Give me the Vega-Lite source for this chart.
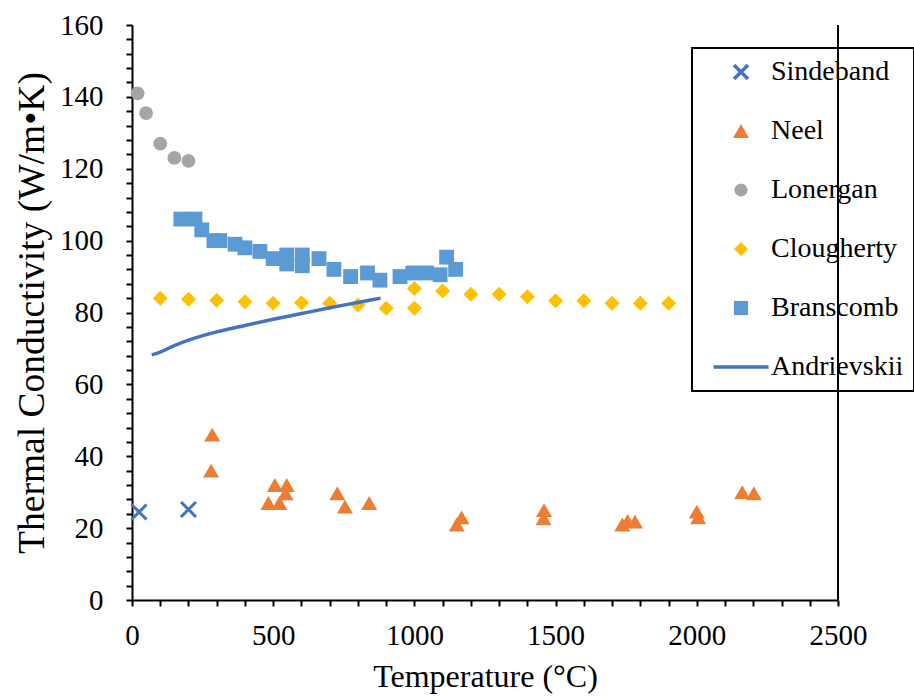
{
  "$schema": "https://vega.github.io/schema/vega-lite/v6.json",
  "width": 706,
  "height": 575,
  "autosize": "none",
  "padding": {"left": 132, "top": 25, "right": 76, "bottom": 96},
  "background": "white",
  "config": {
    "view": {"stroke": null, "fill": null},
    "font": "Liberation Serif",
    "axis": {
      "grid": false,
      "zindex": 2,
      "domainColor": "black",
      "domainWidth": 2,
      "tickColor": "black",
      "tickWidth": 2,
      "tickOpacity": 1,
      "ticks": true,
      "tickSize": 6,
      "labelColor": "black",
      "labelFont": "serif",
      "labelFontSize": 29,
      "labelFlush": false,
      "labelOverlap": false,
      "labelBound": false,
      "titleColor": "black",
      "titleFont": "Liberation Serif",
      "titleFontWeight": "normal"
    }
  },
  "data": {
    "values": [
      {"series": "Sindeband", "T": 25, "k": 24.5},
      {"series": "Sindeband", "T": 200, "k": 25.2},
      {"series": "Neel", "T": 280, "k": 36},
      {"series": "Neel", "T": 284, "k": 46},
      {"series": "Neel", "T": 483, "k": 27},
      {"series": "Neel", "T": 506, "k": 32},
      {"series": "Neel", "T": 522, "k": 27},
      {"series": "Neel", "T": 544, "k": 29.7},
      {"series": "Neel", "T": 548, "k": 32},
      {"series": "Neel", "T": 727, "k": 29.7},
      {"series": "Neel", "T": 754, "k": 26},
      {"series": "Neel", "T": 840, "k": 27},
      {"series": "Neel", "T": 1150, "k": 21},
      {"series": "Neel", "T": 1167, "k": 23},
      {"series": "Neel", "T": 1457, "k": 22.7},
      {"series": "Neel", "T": 1459, "k": 25},
      {"series": "Neel", "T": 1736, "k": 21},
      {"series": "Neel", "T": 1755, "k": 22},
      {"series": "Neel", "T": 1781, "k": 21.8},
      {"series": "Neel", "T": 2000, "k": 24.6},
      {"series": "Neel", "T": 2005, "k": 23},
      {"series": "Neel", "T": 2161, "k": 30},
      {"series": "Neel", "T": 2202, "k": 29.7},
      {"series": "Lonergan", "T": 20, "k": 141},
      {"series": "Lonergan", "T": 50, "k": 135.5},
      {"series": "Lonergan", "T": 100, "k": 127},
      {"series": "Lonergan", "T": 150, "k": 123},
      {"series": "Lonergan", "T": 200, "k": 122.2},
      {"series": "Clougherty", "T": 100, "k": 84},
      {"series": "Clougherty", "T": 200, "k": 83.7},
      {"series": "Clougherty", "T": 300, "k": 83.4},
      {"series": "Clougherty", "T": 400, "k": 83},
      {"series": "Clougherty", "T": 500, "k": 82.6},
      {"series": "Clougherty", "T": 600, "k": 82.7},
      {"series": "Clougherty", "T": 700, "k": 82.6},
      {"series": "Clougherty", "T": 800, "k": 82.1},
      {"series": "Clougherty", "T": 900, "k": 81.2},
      {"series": "Clougherty", "T": 1000, "k": 81.2},
      {"series": "Clougherty", "T": 1000, "k": 86.7},
      {"series": "Clougherty", "T": 1100, "k": 86},
      {"series": "Clougherty", "T": 1200, "k": 85.1},
      {"series": "Clougherty", "T": 1300, "k": 85.1},
      {"series": "Clougherty", "T": 1400, "k": 84.4},
      {"series": "Clougherty", "T": 1500, "k": 83.3},
      {"series": "Clougherty", "T": 1600, "k": 83.3},
      {"series": "Clougherty", "T": 1700, "k": 82.6},
      {"series": "Clougherty", "T": 1800, "k": 82.6},
      {"series": "Clougherty", "T": 1900, "k": 82.6},
      {"series": "Branscomb", "T": 173, "k": 106},
      {"series": "Branscomb", "T": 223, "k": 106},
      {"series": "Branscomb", "T": 247, "k": 103},
      {"series": "Branscomb", "T": 290, "k": 100},
      {"series": "Branscomb", "T": 311, "k": 100},
      {"series": "Branscomb", "T": 365, "k": 99},
      {"series": "Branscomb", "T": 400, "k": 98},
      {"series": "Branscomb", "T": 453, "k": 97},
      {"series": "Branscomb", "T": 500, "k": 95},
      {"series": "Branscomb", "T": 548, "k": 96},
      {"series": "Branscomb", "T": 548, "k": 93.5},
      {"series": "Branscomb", "T": 603, "k": 96},
      {"series": "Branscomb", "T": 603, "k": 93},
      {"series": "Branscomb", "T": 662, "k": 95},
      {"series": "Branscomb", "T": 715, "k": 92},
      {"series": "Branscomb", "T": 774, "k": 90},
      {"series": "Branscomb", "T": 834, "k": 91},
      {"series": "Branscomb", "T": 878, "k": 89},
      {"series": "Branscomb", "T": 949, "k": 90},
      {"series": "Branscomb", "T": 994, "k": 91},
      {"series": "Branscomb", "T": 1043, "k": 91},
      {"series": "Branscomb", "T": 1091, "k": 90.5},
      {"series": "Branscomb", "T": 1114, "k": 95.4},
      {"series": "Branscomb", "T": 1146, "k": 92},
      {"series": "Andrievskii", "T": 70, "k": 68.2},
      {"series": "Andrievskii", "T": 100, "k": 69},
      {"series": "Andrievskii", "T": 150, "k": 70.8},
      {"series": "Andrievskii", "T": 200, "k": 72.3},
      {"series": "Andrievskii", "T": 300, "k": 74.6},
      {"series": "Andrievskii", "T": 400, "k": 76.4},
      {"series": "Andrievskii", "T": 500, "k": 78.1},
      {"series": "Andrievskii", "T": 600, "k": 79.7},
      {"series": "Andrievskii", "T": 700, "k": 81.3},
      {"series": "Andrievskii", "T": 800, "k": 82.8},
      {"series": "Andrievskii", "T": 880, "k": 84}
    ]
  },
  "encoding": {
    "x": {
      "field": "T",
      "type": "quantitative",
      "scale": {"domain": [0, 2500], "nice": false},
      "axis": {
        "title": "Temperature (°C)",
        "titleFontSize": 32,
        "titlePadding": 11,
        "values": [0,100,200,300,400,500,600,700,800,900,1000,1100,1200,1300,1400,1500,1600,1700,1800,1900,2000,2100,2200,2300,2400,2500],
        "format": "d",
        "labelExpr": "datum.value % 500 === 0 ? datum.label : ''",
        "labelPadding": 15
      }
    },
    "y": {
      "field": "k",
      "type": "quantitative",
      "scale": {"domain": [0, 160], "nice": false},
      "axis": {
        "title": "Thermal Conductivity (W/m•K)",
        "titleFontSize": 37.5,
        "titlePadding": 8,
        "values": [0,4,8,12,16,20,24,28,32,36,40,44,48,52,56,60,64,68,72,76,80,84,88,92,96,100,104,108,112,116,120,124,128,132,136,140,144,148,152,156,160],
        "format": "d",
        "labelExpr": "datum.value % 20 === 0 ? datum.label : ''",
        "labelPadding": 23
      }
    },
    "color": {
      "field": "series",
      "type": "nominal",
      "scale": {
        "domain": ["Sindeband", "Neel", "Lonergan", "Clougherty", "Branscomb", "Andrievskii"],
        "range": ["#4472C4", "#ED7D31", "#A5A5A5", "#FFC000", "#5B9BD5", "#4472C4"]
      },
      "legend": {
        "title": null,
        "orient": "none",
        "legendX": 560,
        "legendY": 23,
        "strokeColor": "black",
        "padding": 10,
        "symbolSize": 3025,
        "symbolOffset": 25,
        "labelFont": "serif",
        "labelFontSize": 28,
        "labelColor": "black",
        "labelOffset": 16,
        "rowPadding": 31,
        "encode": {
          "legend": {"update": {"strokeWidth": {"value": 2}}},
          "symbols": {
            "update": {
              "shape": {"signal": "datum.value === 'Sindeband' ? 'M-1,-1L1,1M-1,1L1,-1' : datum.value === 'Neel' ? 'triangle-up' : datum.value === 'Lonergan' ? 'circle' : datum.value === 'Clougherty' ? 'diamond' : datum.value === 'Branscomb' ? 'square' : 'stroke'"},
              "fill": {"signal": "datum.value === 'Neel' ? '#ED7D31' : datum.value === 'Lonergan' ? '#A5A5A5' : datum.value === 'Clougherty' ? '#FFC000' : datum.value === 'Branscomb' ? '#5B9BD5' : 'transparent'"},
              "stroke": {"signal": "datum.value === 'Neel' ? '#ED7D31' : datum.value === 'Lonergan' ? '#A5A5A5' : datum.value === 'Clougherty' ? '#FFC000' : datum.value === 'Branscomb' ? '#5B9BD5' : '#4472C4'"},
              "strokeWidth": {"signal": "datum.value === 'Sindeband' || datum.value === 'Andrievskii' ? 3.5 : 0"},
              "size": {"signal": "datum.value === 'Andrievskii' ? 3025 : datum.value === 'Sindeband' ? 196 : datum.value === 'Neel' ? 256 : datum.value === 'Lonergan' ? 170 : 200"},
              "opacity": {"value": 1}
            }
          }
        }
      }
    }
  },
  "layer": [
    {
      "transform": [{"filter": "datum.series === 'Sindeband'"}],
      "mark": {"type": "point", "filled": false, "strokeWidth": 3, "size": 225, "opacity": 1},
      "encoding": {
        "shape": {"field": "series", "type": "nominal", "scale": {"domain": ["Sindeband", "Neel", "Lonergan", "Clougherty", "Branscomb", "Andrievskii"], "range": ["M-1,-1L1,1M-1,1L1,-1", "triangle-up", "circle", "diamond", "square", "stroke"]}}
      }
    },
    {
      "transform": [{"filter": "datum.series === 'Neel'"}],
      "mark": {"type": "point", "filled": true, "size": 256, "opacity": 1},
      "encoding": {
        "shape": {"field": "series", "type": "nominal", "scale": {"domain": ["Sindeband", "Neel", "Lonergan", "Clougherty", "Branscomb", "Andrievskii"], "range": ["M-1,-1L1,1M-1,1L1,-1", "triangle-up", "circle", "diamond", "square", "stroke"]}}
      }
    },
    {
      "transform": [{"filter": "datum.series === 'Lonergan'"}],
      "mark": {"type": "point", "filled": true, "size": 190, "opacity": 1},
      "encoding": {
        "shape": {"field": "series", "type": "nominal", "scale": {"domain": ["Sindeband", "Neel", "Lonergan", "Clougherty", "Branscomb", "Andrievskii"], "range": ["M-1,-1L1,1M-1,1L1,-1", "triangle-up", "circle", "diamond", "square", "stroke"]}}
      }
    },
    {
      "transform": [{"filter": "datum.series === 'Clougherty'"}],
      "mark": {"type": "point", "filled": true, "size": 225, "opacity": 1},
      "encoding": {
        "shape": {"field": "series", "type": "nominal", "scale": {"domain": ["Sindeband", "Neel", "Lonergan", "Clougherty", "Branscomb", "Andrievskii"], "range": ["M-1,-1L1,1M-1,1L1,-1", "triangle-up", "circle", "diamond", "square", "stroke"]}}
      }
    },
    {
      "transform": [{"filter": "datum.series === 'Branscomb'"}],
      "mark": {"type": "point", "filled": true, "size": 220, "opacity": 1},
      "encoding": {
        "shape": {"field": "series", "type": "nominal", "scale": {"domain": ["Sindeband", "Neel", "Lonergan", "Clougherty", "Branscomb", "Andrievskii"], "range": ["M-1,-1L1,1M-1,1L1,-1", "triangle-up", "circle", "diamond", "square", "stroke"]}}
      }
    },
    {
      "transform": [{"filter": "datum.series === 'Andrievskii'"}],
      "mark": {"type": "line", "strokeWidth": 3.5, "interpolate": "monotone"}
    },
    {
      "mark": {"type": "rule", "color": "black", "strokeWidth": 2},
      "encoding": {"x": {"datum": 2500}, "y": null, "color": null}
    }
  ]
}
